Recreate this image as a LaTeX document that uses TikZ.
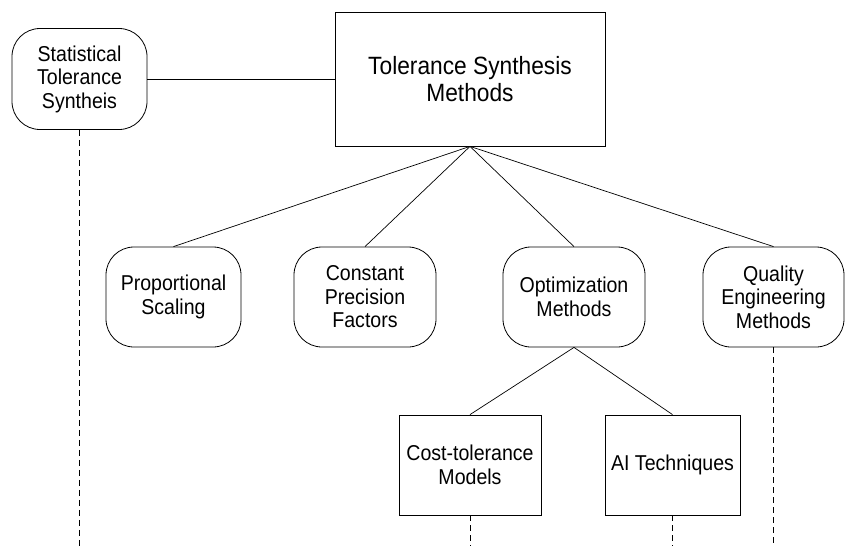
\documentclass[tikz,border=0pt]{standalone}
\usepackage{fontspec}
\setmainfont[FakeStretch=0.91]{Liberation Sans}

\begin{document}
\begin{tikzpicture}[x=1pt,y=-1pt]
\tikzstyle{box} = [draw,line width=0.8pt,align=center,inner sep=0mm,minimum height=100pt,font=\fontsize{21.5}{23.5}\selectfont]
\tikzstyle{rbox} = [box,rounded corners=28pt]
\tikzstyle{ln} = [line width=0.7pt]
\tikzstyle{dl} = [line width=0.7pt,dash pattern=on 6pt off 4pt]
\def\yb{546}
\useasboundingbox (0,0) rectangle (846,546);
\node[box,minimum width=270pt,minimum height=134pt,font=\fontsize{25}{27}\selectfont] (main) at (470,79) {Tolerance Synthesis\\Methods};
\node[rbox,minimum width=135pt,minimum height=101pt] (stat) at (79.5,79) {Statistical\\Tolerance\\Syntheis};
\node[rbox,minimum width=135pt] (prop) at (173.5,297) {Proportional\\Scaling};
\node[rbox,minimum width=142pt] (const) at (365,297) {Constant\\Precision\\Factors};
\node[rbox,minimum width=142pt] (opt) at (574,297) {Optimization\\Methods};
\node[rbox,minimum width=141pt] (qual) at (773.5,297) {Quality\\Engineering\\Methods};
\node[box,minimum width=142pt] (cost) at (470,465) {Cost-tolerance\\Models};
\node[box,minimum width=135pt] (ai) at (672.5,465) {AI Techniques};
\coordinate (statend) at (79.5,\yb);
\coordinate (qualend) at (773.5,\yb);
\coordinate (costend) at (470,\yb);
\coordinate (aiend) at (672.5,\yb);
\path[ln]
(stat.east) edge (main.west)
(main.south) edge (prop.north)
(main.south) edge (const.north)
(main.south) edge (opt.north)
(main.south) edge (qual.north)
(opt.south) edge (cost.north)
(opt.south) edge (ai.north);
\path[dl]
(stat.south) edge (statend)
(qual.south) edge (qualend)
(cost.south) edge (costend)
(ai.south) edge (aiend);
\end{tikzpicture}
\end{document}
